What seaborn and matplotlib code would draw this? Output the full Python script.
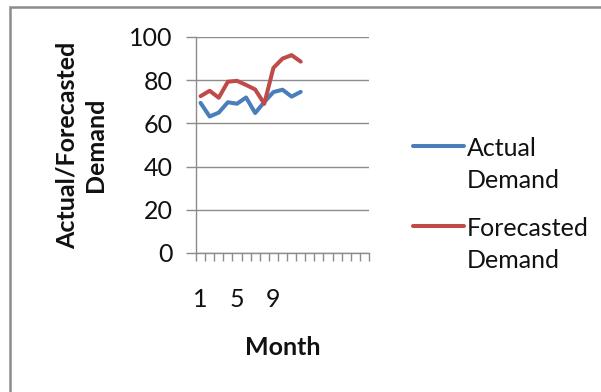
import matplotlib
matplotlib.use("Agg")
import matplotlib.pyplot as plt
from matplotlib.patches import Rectangle
from matplotlib.legend_handler import HandlerLine2D
from matplotlib.lines import Line2D
import seaborn as sns
import pandas as pd

months = list(range(1, 13))
actual = [69.5, 63.2, 65.0, 69.8, 69.1, 72.0, 64.8, 69.9, 74.5, 75.6, 72.4, 74.6]
forecast = [72.6, 75.1, 71.9, 79.3, 79.7, 77.8, 75.7, 69.1, 85.7, 90.0, 91.6, 88.6]
series_names = ["Actual\nDemand", "Forecasted\nDemand"]
colors = ["#4A7EBB", "#BE4B48"]
n_slots = 19                      # category slots on the x axis
x_tick_labels = ["1", "5", "9"]
y_ticks = [0, 20, 40, 60, 80, 100]

df = pd.DataFrame({
    "Month": months * 2,
    "Demand": actual + forecast,
    "Series": [series_names[0]] * len(months) + [series_names[1]] * len(months),
})

sns.set_theme(style="white")
plt.rcParams["font.family"] = ["Lato", "DejaVu Sans"]


class FirstLineHandler(HandlerLine2D):
    """Line handle placed beside the first line of a two-line label."""

    def __init__(self, shift, **kw):
        super().__init__(**kw)
        self.shift = shift

    def create_artists(self, legend, orig_handle, xdescent, ydescent, width,
                       height, fontsize, trans):
        artists = super().create_artists(legend, orig_handle, xdescent, ydescent,
                                         width, height, fontsize, trans)
        for a in artists:
            if isinstance(a, Line2D):
                a.set_ydata([v + self.shift for v in a.get_ydata()])
        return artists


fig = plt.figure(figsize=(6.01, 3.92), dpi=100)
ax = fig.add_axes([196 / 601, 1 - 253 / 392, (369 - 196) / 601, (253 - 37) / 392])

sns.lineplot(data=df, x="Month", y="Demand", hue="Series", palette=colors,
             linewidth=2.9, ax=ax, legend=True)

fs = 18
grid_c = "#8C8C8C"
text_c = "#111111"
ax.set_xlim(0.5, n_slots + 0.5)
ax.set_ylim(0, 100)
ax.set_yticks(y_ticks)
ax.set_yticklabels([str(v) for v in y_ticks], fontsize=fs, color=text_c)
ax.yaxis.grid(True, color=grid_c, linewidth=1.0)
ax.set_axisbelow(True)
ax.tick_params(axis="y", length=7, width=1.0, color=grid_c, pad=10, left=True)

ax.set_xticks([int(s) for s in x_tick_labels])
ax.set_xticklabels(x_tick_labels, fontsize=fs, color=text_c)
ax.tick_params(axis="x", which="major", length=0, pad=25)
ax.set_xticks([i + 0.5 for i in range(0, n_slots + 1)], minor=True)
ax.tick_params(axis="x", which="minor", length=6, width=1.0, color=grid_c,
               bottom=True, direction="out")

for side in ["top", "right"]:
    ax.spines[side].set_visible(False)
for side in ["left", "bottom"]:
    ax.spines[side].set_color(grid_c)
    ax.spines[side].set_linewidth(1.0)

ax.set_xlabel("Month", fontsize=fs, fontweight="bold", labelpad=18, color=text_c)
ax.set_ylabel("Actual/Forecasted\nDemand", fontsize=fs, fontweight="bold",
              labelpad=16, color=text_c, linespacing=1.25)

handles, labels = ax.get_legend_handles_labels()
ax.get_legend().remove()
leg = fig.legend(handles, labels, loc="upper left",
                 bbox_to_anchor=(390 / 601, 1 - 114 / 392),
                 frameon=False, fontsize=fs, handlelength=2.05, handletextpad=0.12,
                 labelspacing=1.0, labelcolor=text_c,
                 handler_map={Line2D: FirstLineHandler(shift=14)})
for t in leg.get_texts():
    t.set_linespacing(1.5)

# chart frame
fig.patches.append(Rectangle((10 / 601, -0.2), 1.2, 1 - 7 / 392 + 0.2,
                             transform=fig.transFigure, fill=False,
                             edgecolor="#8C8C8C", linewidth=1.8))

fig.savefig("out.png", dpi=100)
